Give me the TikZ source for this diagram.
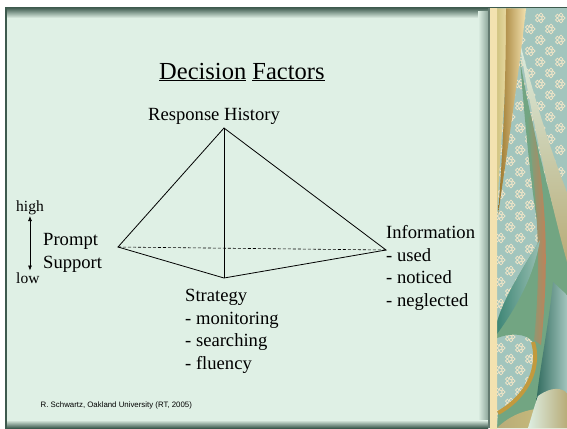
\documentclass[tikz,border=0pt]{standalone}
\usepackage{fontspec}
\setmainfont{Liberation Serif}
\setsansfont{Liberation Sans}
\usetikzlibrary{arrows.meta}
\definecolor{slidebg}{HTML}{DFF0E5}
\definecolor{rimdark}{HTML}{3D5A4E}
\definecolor{rimgrey}{HTML}{8FA89C}
\definecolor{stripteal}{HTML}{A2C5BD}
\definecolor{stripgold}{HTML}{C29A3E}
\definecolor{stripbrown}{HTML}{9A7428}
\definecolor{striplight}{HTML}{F3E2B0}
\definecolor{stripolive}{HTML}{CFC27E}
\definecolor{stripgreen}{HTML}{72A582}
\definecolor{striporange}{HTML}{D27A4E}
\definecolor{stripdeep}{HTML}{3E8676}
\definecolor{stripmint}{HTML}{DDEEE2}
\definecolor{striptan}{HTML}{B8AC78}
\definecolor{flowercream}{HTML}{F2E6C8}
\begin{document}
\begin{tikzpicture}[x=1pt, y=-1pt,
    headline/.style={font=\fontsize{24.5}{28}\selectfont, inner sep=0pt, anchor=base west},
    corner/.style={font=\fontsize{18.6}{22.4}\selectfont, inner sep=0pt, anchor=base west, align=left},
    scale label/.style={font=\fontsize{15.5}{18}\selectfont, inner sep=1.5pt, anchor=base west},
    credit/.style={font=\sffamily\fontsize{7.85}{9}\selectfont, inner sep=0pt, anchor=base west},
    flower/.style={flowercream, line width=0.7pt}]
\useasboundingbox (0,0) rectangle (567,428);
\fill[white] (0,0) rectangle (567,428);
% slide panel with bevelled rim
\fill[slidebg] (5,8) rectangle (488,428);
\shade[top color=rimdark, bottom color=slidebg] (5,7.5) rectangle (488,18);
\shade[left color=slidebg, right color=rimgrey] (478,12) rectangle (488,428);
\shade[top color=slidebg, bottom color=rimdark] (5,420) rectangle (488,428);
\fill[rimdark] (4.5,7.5) rectangle (6.5,428);
\fill[rimdark] (4.5,7) rectangle (567,8.5);
\fill[rimdark!80] (487.5,8) rectangle (490,428);
% decorative strip
\begin{scope}
  \clip (490,8.5) rectangle (567,428);
  \fill[stripteal] (490,8.5) rectangle (567,428);
  \foreach \fx in {500,520,540,560} \foreach \fy in {18,40,...,420}
    \foreach \a in {0,72,...,288} \draw[flower] (\fx,\fy) ++(\a:3.2) circle (1.9);
  \foreach \fx in {510,530,550} \foreach \fy in {29,51,...,420}
    \foreach \a in {0,72,...,288} \draw[flower] (\fx,\fy) ++(\a:3.2) circle (1.9);
  % green band
  \fill[stripgreen] (520,60) .. controls (527,150) and (533,200) .. (540,240)
    .. controls (525,265) and (505,295) .. (497,322) -- (497,338)
    .. controls (510,333) and (526,333) .. (533,342)
    .. controls (540,365) and (530,395) .. (498,413) -- (497,428) -- (567,428) -- (567,255)
    .. controls (550,200) and (530,120) .. (520,60);
  \shade[left color=stripgreen, right color=striporange] (527,120) .. controls (537,200) and (542,260) .. (534,340) -- (541,345) .. controls (550,260) and (546,190) .. (531,115) -- cycle;
  \shade[left color=stripdeep, right color=stripteal!80!stripgreen] (497,322) .. controls (505,295) and (525,265) .. (540,240) .. controls (534,275) and (518,305) .. (497,334) -- cycle;
  \draw[stripgold, line width=4pt] (533,342) .. controls (540,365) and (530,395) .. (498,413);
  % pale ribbon
  \shade[top color=stripmint, bottom color=striptan] (518,35) .. controls (530,110) and (550,200) .. (567,262) -- (567,192) .. controls (550,150) and (532,90) .. (518,35);
  % dark blade and curl at the foot
  \shade[left color=stripdeep!80!black, right color=stripteal] (553,282) .. controls (548,330) and (540,365) .. (536,405) -- (567,405) -- (567,295) -- cycle;
  \shade[left color=striptan, right color=stripolive] (497,428) .. controls (515,410) and (540,405) .. (567,410) -- (567,428) -- cycle;
  \shade[left color=stripmint, right color=striptan] (538,396) .. controls (552,386) and (562,388) .. (567,393) -- (567,428) -- (528,428) .. controls (532,415) and (535,404) .. (538,396);
  % gold ribbons on the left
  \shade[left color=stripolive, right color=striplight] (496,8.5) -- (511,8.5) .. controls (506,80) and (500,150) .. (497,215) -- cycle;
  \shade[left color=stripbrown, right color=striplight] (506,8.5) -- (526,8.5) .. controls (518,80) and (506,160) .. (498,215) .. controls (503,150) and (506,80) .. (506,8.5);
  \shade[top color=striplight, middle color=stripgold, bottom color=striplight] (490,8.5) rectangle (497,428);
\end{scope}
% title and pyramid
\node[headline] (title) at (159,79) {\underline{Decision} \underline{Factors}};
\node[corner] (history) at (148,120) {Response History};
\coordinate (apex) at (224,128);
\coordinate (leftv) at (118,247);
\coordinate (rightv) at (386,250);
\coordinate (frontv) at (224,278);
\draw[line width=0.8pt] (apex) -- (leftv) -- (frontv) -- (rightv) -- cycle;
\draw[line width=0.8pt] (apex) -- (frontv);
\draw[line width=0.6pt, dash pattern=on 3pt off 2pt] (leftv) -- (rightv);
% labels (anchor sits on the last line)
\node[corner] (info) at (386,306) {Information\\- used\\- noticed\\- neglected};
\node[corner] (strategy) at (185,369) {Strategy\\- monitoring\\- searching\\- fluency};
\node[corner] (prompt) at (43,268) {Prompt\\Support};
\node[scale label] (high) at (14.5,211) {high};
\node[scale label] (low) at (14.5,283) {low};
\draw[{Latex[length=5pt,width=4pt]}-{Latex[length=5pt,width=4pt]}, line width=0.7pt] (high.south) -- (high.south |- low.north);
\node[credit] (source) at (40.5,407) {R. Schwartz, Oakland University (RT, 2005)};
\end{tikzpicture}
\end{document}
